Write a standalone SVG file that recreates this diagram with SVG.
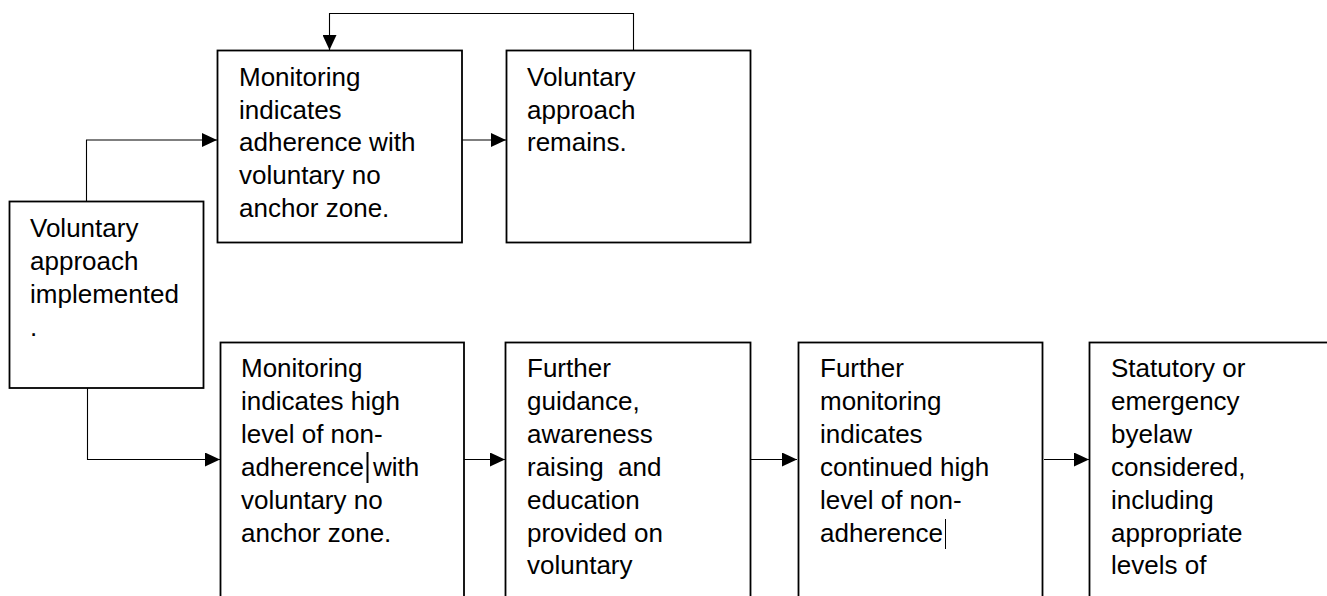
<svg xmlns="http://www.w3.org/2000/svg" width="1327" height="596" viewBox="0 0 1327 596">
<style>
  .box { fill: #ffffff; stroke: #000000; stroke-width: 1.8; }
  .t { font-family: "Liberation Sans", Arial, sans-serif; font-size: 26px; fill: #000000; white-space: pre; }
  .c { fill: none; stroke: #000000; stroke-width: 1.1; }
</style>
<defs>
  <marker id="ah" markerWidth="15" markerHeight="14" refX="15" refY="7" orient="auto" markerUnits="userSpaceOnUse">
    <path d="M0,0 L15,7 L0,14 Z" fill="#000000"/>
  </marker>
</defs>
<rect width="1327" height="596" fill="#ffffff"/>
<g id="connectors">
  <polyline class="c" points="86.5,201 86.5,140 217,140" marker-end="url(#ah)"/>
  <line class="c" x1="462" y1="140" x2="506" y2="140" marker-end="url(#ah)"/>
  <polyline class="c" points="633.5,50 633.5,13.5 329.5,13.5 329.5,50" marker-end="url(#ah)"/>
  <polyline class="c" points="87.5,388 87.5,459.5 220,459.5" marker-end="url(#ah)"/>
  <line class="c" x1="464" y1="459.5" x2="505" y2="459.5" marker-end="url(#ah)"/>
  <line class="c" x1="750.5" y1="459.5" x2="797" y2="459.5" marker-end="url(#ah)"/>
  <line class="c" x1="1044" y1="459.5" x2="1089" y2="459.5" marker-end="url(#ah)"/>
</g>
<g id="start">
  <rect class="box" x="9.5" y="201.5" width="194" height="186.5"/>
  <text class="t"><tspan x="30" y="237">Voluntary</tspan><tspan x="30" y="270">approach</tspan><tspan x="30" y="303">implemented</tspan><tspan x="30" y="336">.</tspan></text>
</g>
<g id="adherence">
  <rect class="box" x="217.5" y="50.5" width="244.5" height="192"/>
  <text class="t"><tspan x="239" y="86">Monitoring</tspan><tspan x="239" y="118.7">indicates</tspan><tspan x="239" y="151.4">adherence with</tspan><tspan x="239" y="184.1">voluntary no</tspan><tspan x="239" y="216.8">anchor zone.</tspan></text>
</g>
<g id="remains">
  <rect class="box" x="506.5" y="50.5" width="244" height="192"/>
  <text class="t"><tspan x="527" y="86">Voluntary</tspan><tspan x="527" y="118.7">approach</tspan><tspan x="527" y="151.4">remains.</tspan></text>
</g>
<g id="nonadherence">
  <rect class="box" x="220.5" y="342.5" width="243.5" height="300"/>
  <text class="t"><tspan x="241" y="377">Monitoring</tspan><tspan x="241" y="409.9">indicates high</tspan><tspan x="241" y="442.8">level of non-</tspan><tspan x="241" y="475.7">adherence</tspan><tspan x="373" y="475.7">with</tspan><tspan x="241" y="508.6">voluntary no</tspan><tspan x="241" y="541.5">anchor zone.</tspan></text>
  <line x1="367.5" y1="452" x2="367.5" y2="483" stroke="#000000" stroke-width="2"/>
</g>
<g id="guidance">
  <rect class="box" x="505.5" y="342.5" width="245" height="300"/>
  <text class="t"><tspan x="527" y="377">Further</tspan><tspan x="527" y="409.9">guidance,</tspan><tspan x="527" y="442.8">awareness</tspan><tspan x="527" y="475.7">raising  and</tspan><tspan x="527" y="508.6">education</tspan><tspan x="527" y="541.5">provided on</tspan><tspan x="527" y="574.4">voluntary</tspan></text>
</g>
<g id="further-monitoring">
  <rect class="box" x="798.5" y="342.5" width="244" height="300"/>
  <text class="t"><tspan x="820" y="377">Further</tspan><tspan x="820" y="409.9">monitoring</tspan><tspan x="820" y="442.8">indicates</tspan><tspan x="820" y="475.7">continued high</tspan><tspan x="820" y="508.6">level of non-</tspan><tspan x="820" y="541.5">adherence</tspan></text>
  <line x1="945.5" y1="519" x2="945.5" y2="549" stroke="#000000" stroke-width="1"/>
</g>
<g id="byelaw">
  <rect class="box" x="1089.5" y="342.5" width="300" height="300"/>
  <text class="t"><tspan x="1111" y="377">Statutory or</tspan><tspan x="1111" y="409.9">emergency</tspan><tspan x="1111" y="442.8">byelaw</tspan><tspan x="1111" y="475.7">considered,</tspan><tspan x="1111" y="508.6">including</tspan><tspan x="1111" y="541.5">appropriate</tspan><tspan x="1111" y="574.4">levels of</tspan></text>
</g>
</svg>
